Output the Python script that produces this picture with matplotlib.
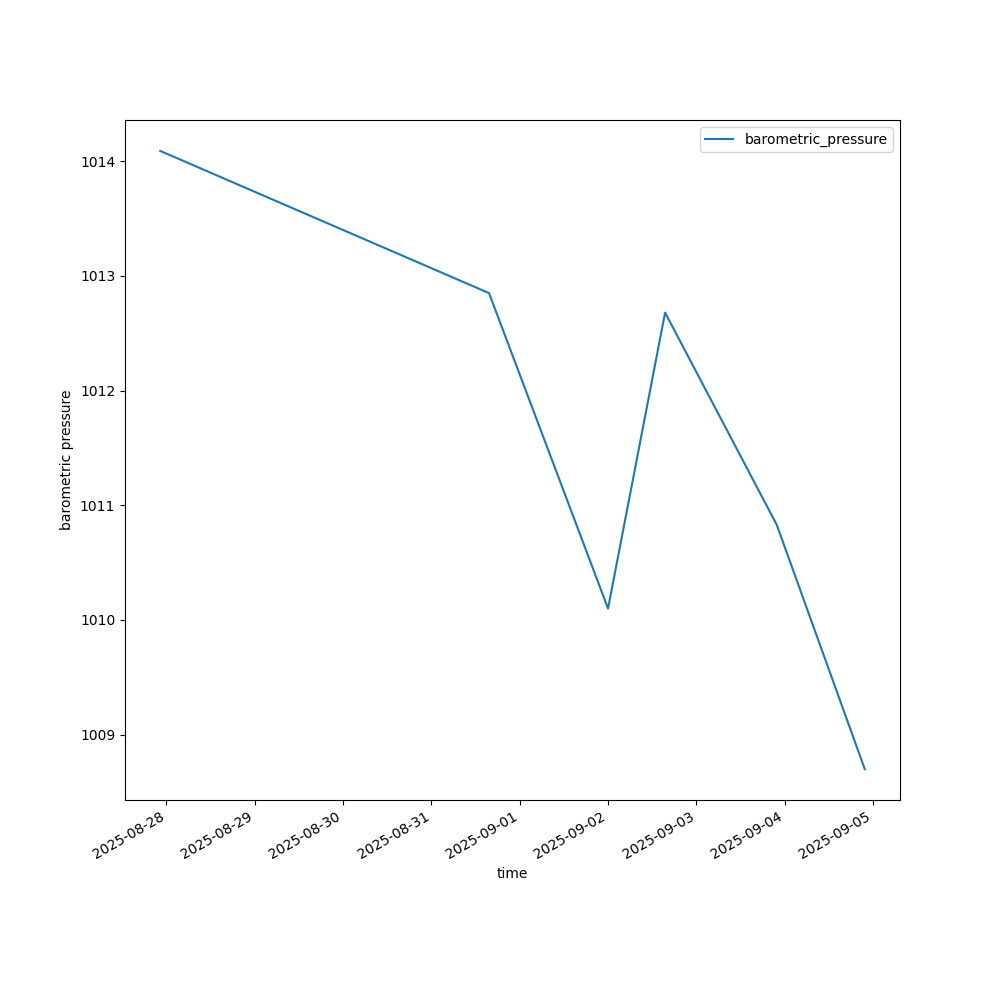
import matplotlib
matplotlib.use("Agg")
import matplotlib.pyplot as plt
import pandas as pd

times = pd.to_datetime([
    "2025-08-27 22:20",
    "2025-08-31 15:40",
    "2025-09-02 00:00",
    "2025-09-02 15:30",
    "2025-09-03 21:50",
    "2025-09-04 21:45",
])
pressure = [1014.09, 1012.85, 1010.10, 1012.68, 1010.83, 1008.70]

fig, ax = plt.subplots(figsize=(10, 10), dpi=100)
ax.plot(times, pressure, label="barometric_pressure")
ax.set_xlabel("time")
ax.set_ylabel("barometric pressure")
ax.legend(loc="upper right")
fig.autofmt_xdate()
fig.savefig("out.png", dpi=100)
